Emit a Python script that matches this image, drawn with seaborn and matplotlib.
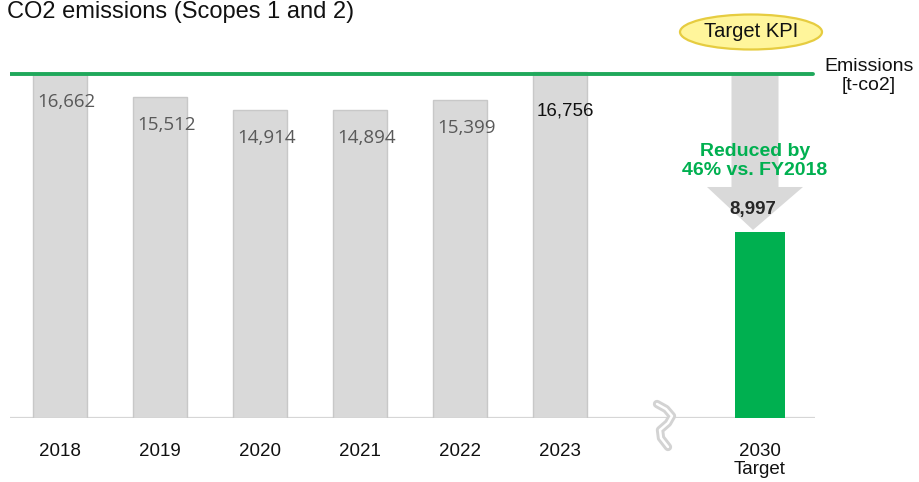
import matplotlib
matplotlib.use("Agg")
import matplotlib.pyplot as plt
from matplotlib.patches import Ellipse, Polygon
import seaborn as sns
import pandas as pd

# ---- data ----
years = ["2018", "2019", "2020", "2021", "2022", "2023"]
emissions = [16662, 15512, 14914, 14894, 15399, 16756]
target_label = "2030\nTarget"
target_value = 8997
reference_level = 16650
reduction_text = "Reduced by\n46% vs. FY2018"
title = "CO2 emissions (Scopes 1 and 2)"
unit_text = "Emissions\n[t-co2]"
kpi_text = "Target KPI"

actual_pos = list(range(len(years)))
target_pos = len(years) + 1  # gap for the axis break

sns.set_theme(style="white")
plt.rcParams["font.family"] = ["Liberation Sans", "DejaVu Sans"]

fig = plt.figure(figsize=(9.19, 4.82), dpi=100)
ax = fig.add_axes([10 / 919, 64 / 482, 805 / 919, 418 / 482])

df_actual = pd.DataFrame({"pos": actual_pos, "value": emissions})
df_target = pd.DataFrame({"pos": [target_pos], "value": [target_value]})

sns.barplot(data=df_actual, x="pos", y="value", native_scale=True, width=0.54,
            color="#D9D9D9", edgecolor="#C8C8C8", linewidth=1.0,
            saturation=1, ax=ax, zorder=2)
sns.barplot(data=df_target, x="pos", y="value", native_scale=True, width=0.50,
            color="#00B050", saturation=1, linewidth=0, ax=ax, zorder=2)

ax.set_xlim(-0.5, 7.55)
ax.set_ylim(0, 20222)
for s in ax.spines.values():
    s.set_visible(False)
ax.set_yticks([])
ax.set_xlabel("")
ax.set_ylabel("")
ax.set_xticks(actual_pos + [target_pos])
ax.set_xticklabels(years + [target_label], fontsize=13.5, color="#111111",
                   linespacing=1.1)
ax.tick_params(axis="x", length=0, pad=18)

# baseline and reference line
ax.axhline(0, color="#D6D6D6", lw=1.6, zorder=1)
ax.axhline(reference_level, xmin=0, xmax=0.998, color="#1FA85B", lw=2.8, zorder=4)

# value labels
px = 48.38  # data units per pixel (vertical)
for p, v in zip(actual_pos[:-1], emissions[:-1]):
    ax.text(p + 0.065, v - 28 * px, f"{v:,}", ha="center", va="center",
            fontsize=13.5, color="#595959", family=["Open Sans", "DejaVu Sans"],
            zorder=5)
ax.text(actual_pos[-1] + 0.05, emissions[-1] - 39 * px, f"{emissions[-1]:,}",
        ha="center", va="center", fontsize=13.5, color="#111111", zorder=5)

# gray arrow down to target
ac = 6.95
arrow = Polygon([(ac - 0.235, reference_level - 1.5 * px), (ac + 0.235, reference_level - 1.5 * px),
                 (ac + 0.235, 11176), (ac + 0.48, 11176), (ac - 0.02, 9095),
                 (ac - 0.48, 11176), (ac - 0.235, 11176)],
                closed=True, facecolor="#D9D9D9", edgecolor="none", zorder=1.5)
ax.add_patch(arrow)

ax.text(ac, 12433, reduction_text, ha="center", va="center", fontsize=14,
        fontweight="bold", color="#00B050", linespacing=1.1, zorder=6)
ax.text(ac - 0.02, 10063, f"{target_value:,}", ha="center", va="center",
        fontsize=13.5, fontweight="bold", color="#262626", zorder=6)

# Target KPI ellipse
ell = Ellipse((6.91, 18674), 1.42, 35 * px, facecolor="#FFF59B",
              edgecolor="#E6CC40", lw=1.6, clip_on=False, zorder=6)
ax.add_patch(ell)
ax.text(6.91, 18674, kpi_text, ha="center", va="center", fontsize=14.5,
        color="#111111", zorder=7, clip_on=False)

# unit label
ax.text(8.09, 16546, unit_text, ha="center", va="center", fontsize=14,
        color="#111111", linespacing=1.2, clip_on=False)

# axis break symbol (pixel offsets converted to data units)
brk_px = [(657, 404), (666, 409), (672, 416), (668, 423), (660, 430),
          (661, 438), (668, 447)]
bx = [(x - 60) / 100 for x, _ in brk_px]
by = [(418 - y) * px for _, y in brk_px]
ax.plot(bx, by, color="#D3D3D3", lw=6, solid_capstyle="round",
        solid_joinstyle="round", clip_on=False, zorder=3)
ax.plot(bx, by, color="white", lw=1.8, solid_capstyle="round",
        solid_joinstyle="round", clip_on=False, zorder=3.5)

fig.text(7 / 919, 1 - 1 / 482, title, ha="left", va="top", fontsize=17,
         color="#111111")

fig.savefig("out.png", dpi=100)
